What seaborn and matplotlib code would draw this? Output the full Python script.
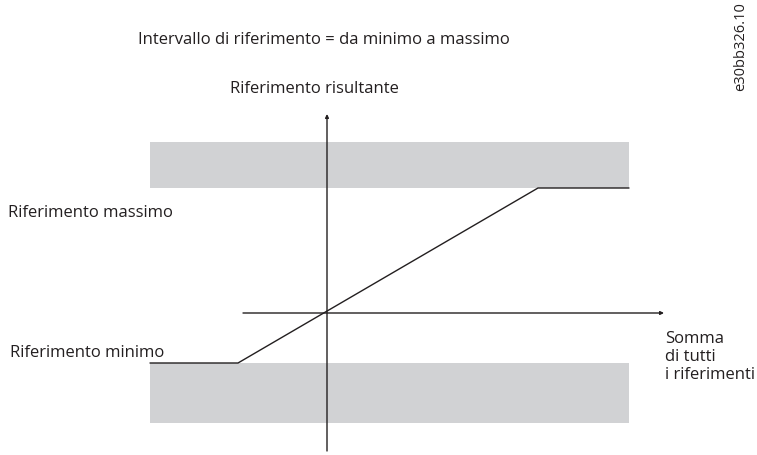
import matplotlib
matplotlib.use("Agg")
from matplotlib import pyplot as plt
import pandas as pd
import seaborn as sns

# diagram units (origin = crossing of the two axes)
sum_refs = [-177, -89, 211, 302]          # sum of all references
result_ref = [-50, -50, 125, 125]         # resulting reference
band_top = [125, 171]
band_bottom = [-110, -50]
band_x = [-177, 302]
x_axis = [-84, 337]
y_axis = [-138, 199]

labels = {
    "title": "Intervallo di riferimento = da minimo a massimo",
    "yaxis": "Riferimento risultante",
    "max": "Riferimento massimo",
    "min": "Riferimento minimo",
    "xaxis": "Somma\ndi tutti\ni riferimenti",
    "code": "e30bb326.10",
}

sns.set_theme(style="white")
plt.rcParams["font.family"] = ["Open Sans", "DejaVu Sans"]

fig = plt.figure(figsize=(7.57, 4.56), dpi=100)
ax = fig.add_axes([0, 0, 1, 1])
ax.set_xlim(-327, 430)
ax.set_ylim(-142, 314)
ax.axis("off")

grey = "#d1d2d4"
ax.fill_between(band_x, band_top[0], band_top[1], color=grey, lw=0)
ax.fill_between(band_x, band_bottom[0], band_bottom[1], color=grey, lw=0)

df = pd.DataFrame({"x": sum_refs, "y": result_ref})
sns.lineplot(data=df, x="x", y="y", ax=ax, color="#231f20", lw=1.0,
             estimator=None, sort=False)

aprops = dict(arrowstyle="-|>", color="#231f20", lw=1.0,
              mutation_scale=5, shrinkA=0, shrinkB=0)
ax.annotate("", xy=(x_axis[1], 0), xytext=(x_axis[0], 0), arrowprops=aprops)
ax.annotate("", xy=(0, y_axis[1]), xytext=(0, y_axis[0]), arrowprops=aprops)

fs = 12
col = "#231f20"
ax.text(-189, 274, labels["title"], fontsize=fs, color=col, va="center", ha="left")
ax.text(-97, 225, labels["yaxis"], fontsize=fs, color=col, va="center", ha="left")
ax.text(-319, 101, labels["max"], fontsize=fs, color=col, va="center", ha="left")
ax.text(-317, -39, labels["min"], fontsize=fs, color=col, va="center", ha="left")
ax.text(338, -43, labels["xaxis"], fontsize=fs, color=col, va="center", ha="left",
        linespacing=1.15)
ax.text(414, 267, labels["code"], fontsize=10.5, color=col, va="center", ha="center",
        rotation=90)

fig.savefig("out.png", dpi=100)
